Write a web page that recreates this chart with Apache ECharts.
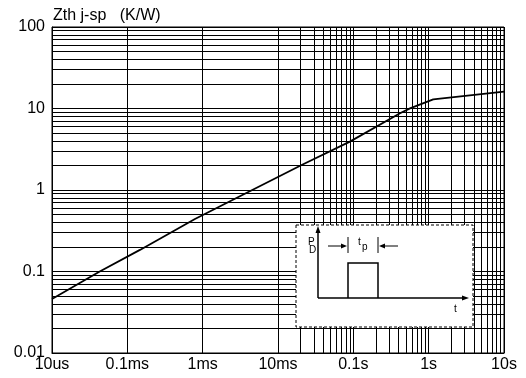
<!DOCTYPE html>
<html>
<head>
<meta charset="utf-8">
<script src="https://cdn.jsdelivr.net/npm/echarts@6/dist/echarts.min.js"></script>
<style>
  html, body { margin: 0; padding: 0; background: #fff; }
  #chart { width: 526px; height: 378px; }
</style>
</head>
<body>
<div id="chart"></div>
<script>
// Transient thermal impedance junction-to-solder-point vs. pulse duration
const pulseTimes = [1e-5, 4.3e-5, 1.47e-4, 7.9e-4, 0.0206, 0.09, 0.417, 0.565, 1.15, 10];
const zthValues  = [0.046, 0.1, 0.184, 0.44, 2.03, 3.92, 8.73, 10.05, 12.97, 16.1];

const xTickLabels = ['10us', '0.1ms', '1ms', '10ms', '0.1s', '1s', '10s'];
const yTickLabels = ['0.01', '0.1', '1', '10', '100'];
const xMinDecade = -5, xMaxDecade = 1;
const yMinDecade = -2, yMaxDecade = 2;
const minorSteps = [2, 3, 4, 5, 6, 7, 8, 9];

const FONT = 'Liberation Sans, Arial, sans-serif';

// minor log grid positions (2..9 within each decade)
function minorValues(d0, d1) {
  const out = [];
  for (let d = d0; d < d1; d++) {
    for (const m of minorSteps) out.push(m * Math.pow(10, d));
  }
  return out;
}
const gridLineStyle = { color: '#000', width: 1, type: 'solid' };
const minorLines = []
  .concat(minorValues(xMinDecade, xMaxDecade).map(v => ({ xAxis: v })))
  .concat(minorValues(yMinDecade, yMaxDecade).map(v => ({ yAxis: v })));

const chart = echarts.init(document.getElementById('chart'), null, { renderer: 'canvas' });

// pulse sketch inset geometry
const box = { x: 296, y: 225, w: 177, h: 102 };
const ox = 318, oy = 298, pulseL = 348, pulseR = 378, pulseTop = 263;
const insetLine = { stroke: '#000', lineWidth: 1.5 };

chart.setOption({
  animation: false,
  grid: { left: 52, right: 22, top: 27, bottom: 25, show: false },
  xAxis: {
    type: 'log', logBase: 10,
    min: Math.pow(10, xMinDecade), max: Math.pow(10, xMaxDecade),
    axisLine: { show: true, lineStyle: { color: '#000', width: 1 } },
    axisTick: { show: false },
    splitLine: { show: true, lineStyle: gridLineStyle },
    axisLabel: {
      color: '#000', fontFamily: FONT, fontSize: 16, margin: 4,
      formatter: v => xTickLabels[Math.round(Math.log10(v)) - xMinDecade]
    }
  },
  yAxis: {
    type: 'log', logBase: 10,
    min: Math.pow(10, yMinDecade), max: Math.pow(10, yMaxDecade),
    name: 'Zth j-sp   (K/W)',
    nameLocation: 'end',
    nameGap: 3,
    nameTextStyle: { color: '#000', fontFamily: FONT, fontSize: 16, align: 'left', padding: [0, 0, 0, 1] },
    axisLine: { show: true, lineStyle: { color: '#000', width: 1 } },
    axisTick: { show: false },
    splitLine: { show: true, lineStyle: gridLineStyle },
    axisLabel: {
      color: '#000', fontFamily: FONT, fontSize: 16, margin: 7,
      formatter: v => yTickLabels[Math.round(Math.log10(v)) - yMinDecade]
    }
  },
  series: [{
    type: 'line',
    data: pulseTimes.map((t, i) => [t, zthValues[i]]),
    showSymbol: false,
    lineStyle: { color: '#000', width: 1.8 },
    z: 5,
    markLine: {
      silent: true, symbol: 'none', animation: false,
      label: { show: false },
      lineStyle: gridLineStyle,
      emphasis: { disabled: true },
      data: minorLines
    }
  }],
  graphic: [
    // frame of the plot
    { type: 'rect', shape: { x: 52, y: 27, width: 452, height: 326 }, style: { fill: 'none', stroke: '#000', lineWidth: 1 }, z: 10 },
    // inset panel
    { type: 'rect', shape: { x: box.x, y: box.y, width: box.w, height: box.h },
      style: { fill: '#fff', stroke: '#000', lineWidth: 1, lineDash: [3, 2] }, z: 20 },
    // P_D axis with arrow
    { type: 'line', shape: { x1: ox, y1: oy, x2: ox, y2: 229 }, style: insetLine, z: 21 },
    { type: 'polygon', shape: { points: [[ox, 226], [ox - 2.5, 233], [ox + 2.5, 233]] }, style: { fill: '#000' }, z: 21 },
    // t axis with arrow
    { type: 'line', shape: { x1: ox, y1: oy, x2: 465, y2: oy }, style: insetLine, z: 21 },
    { type: 'polygon', shape: { points: [[469, oy], [462, oy - 2.5], [462, oy + 2.5]] }, style: { fill: '#000' }, z: 21 },
    // pulse
    { type: 'polyline', shape: { points: [[pulseL, oy], [pulseL, pulseTop], [pulseR, pulseTop], [pulseR, oy]] }, style: { fill: 'none', stroke: '#000', lineWidth: 1.5 }, z: 21 },
    // t_p dimension markers
    { type: 'line', shape: { x1: pulseL, y1: 237, x2: pulseL, y2: 253 }, style: { stroke: '#000', lineWidth: 1 }, z: 21 },
    { type: 'line', shape: { x1: pulseR, y1: 237, x2: pulseR, y2: 253 }, style: { stroke: '#000', lineWidth: 1 }, z: 21 },
    { type: 'line', shape: { x1: 328, y1: 246, x2: pulseL - 5, y2: 246 }, style: { stroke: '#000', lineWidth: 1 }, z: 21 },
    { type: 'polygon', shape: { points: [[pulseL - 1, 246], [pulseL - 7, 243.5], [pulseL - 7, 248.5]] }, style: { fill: '#000' }, z: 21 },
    { type: 'line', shape: { x1: pulseR + 5, y1: 246, x2: 398, y2: 246 }, style: { stroke: '#000', lineWidth: 1 }, z: 21 },
    { type: 'polygon', shape: { points: [[pulseR + 1, 246], [pulseR + 7, 243.5], [pulseR + 7, 248.5]] }, style: { fill: '#000' }, z: 21 },
    // labels
    { type: 'text', x: 308, y: 237, style: { text: 'P', font: '10px ' + FONT, fill: '#000' }, z: 21 },
    { type: 'text', x: 309, y: 245, style: { text: 'D', font: '10px ' + FONT, fill: '#000' }, z: 21 },
    { type: 'text', x: 358, y: 237, style: { text: 't', font: '10px ' + FONT, fill: '#000' }, z: 21 },
    { type: 'text', x: 362, y: 242, style: { text: 'p', font: '10px ' + FONT, fill: '#000' }, z: 21 },
    { type: 'text', x: 454, y: 304, style: { text: 't', font: '10px ' + FONT, fill: '#000' }, z: 21 }
  ]
});
</script>
</body>
</html>
